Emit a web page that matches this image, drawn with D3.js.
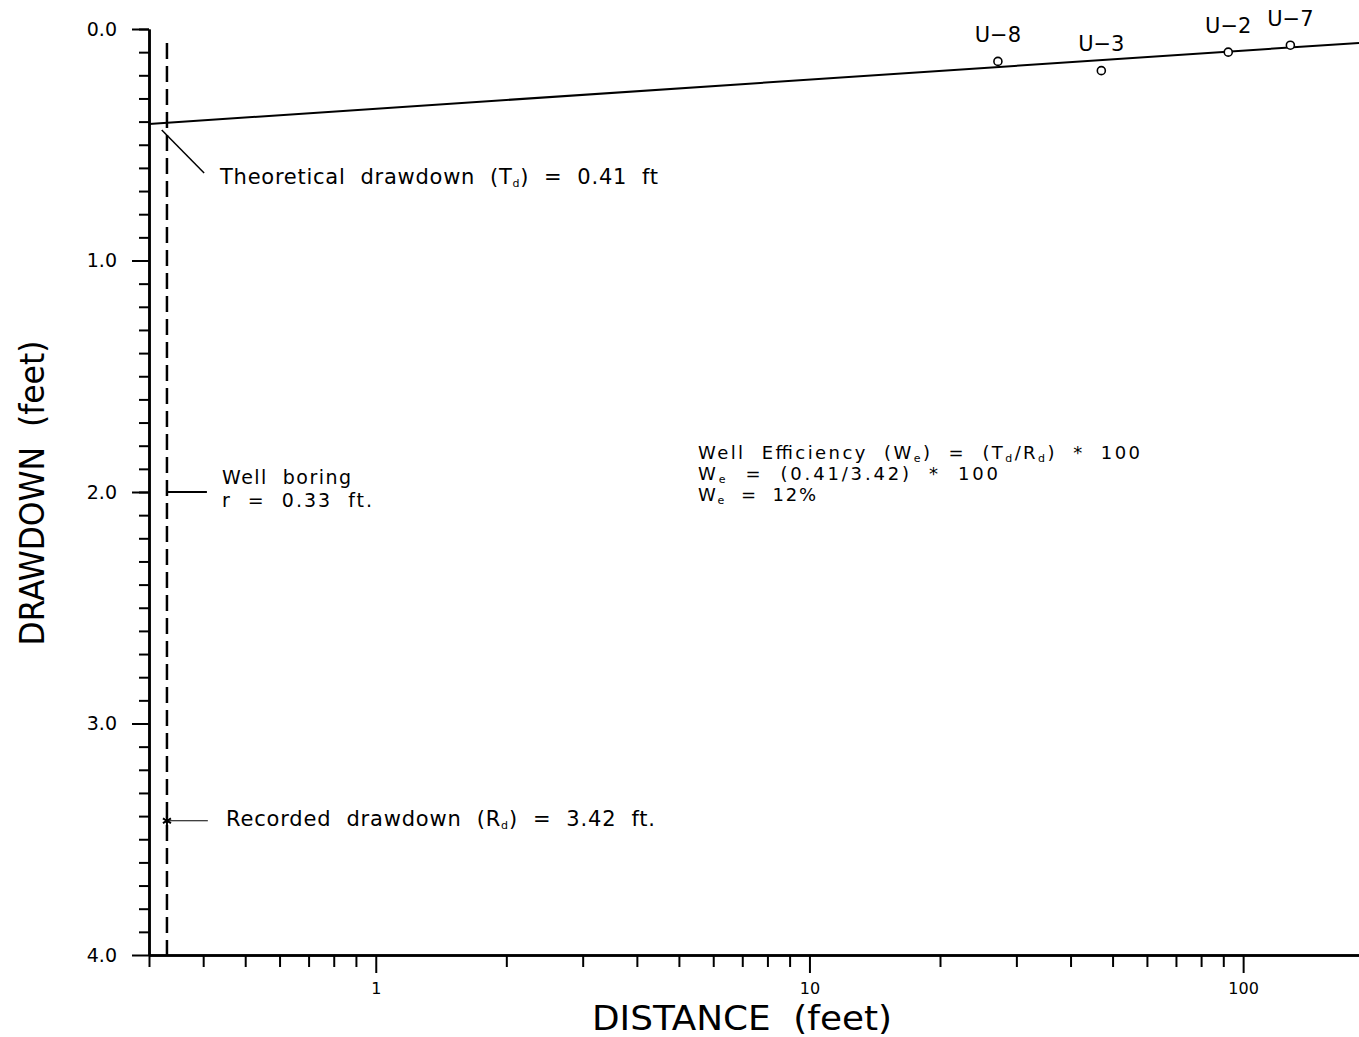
<!DOCTYPE html>
<html>
<head>
<meta charset="utf-8">
<script src="https://cdn.jsdelivr.net/npm/d3@7"></script>
<style>
  html, body { margin: 0; padding: 0; background: #fff; }
  svg { display: block; }
  text { fill: #000; white-space: pre; }
  .ann { font-family: "DejaVu Sans", sans-serif; font-size: 21px; }
  .eff { font-size: 18px; }
  .bor { font-size: 19px; }
  .yax .tick text { font-family: "DejaVu Sans", sans-serif; font-size: 19px; fill: #000; }
  .xax .tick text { font-family: "DejaVu Sans", sans-serif; font-size: 16px; fill: #000; }
  .title { font-family: "Liberation Sans Narrow", "DejaVu Sans Condensed", "Liberation Sans", sans-serif; font-size: 34px; }
</style>
</head>
<body>
<svg id="chart" width="1359" height="1037"></svg>
<script>
// ---- data ----
const xDomain = [0.3, 185];
const yDomain = [0, 4];
const yMajorTicks = [0, 1, 2, 3, 4];
const yMinorTicks = d3.range(0, 40).map(i => i / 10);
const xMajorTicks = [1, 10, 100];
const xMinorTicks = [0.3, 0.4, 0.5, 0.6, 0.7, 0.8, 0.9, 2, 3, 4, 5, 6, 7, 8, 9, 20, 30, 40, 50, 60, 70, 80, 90];
const wellNames = ["U-8", "U-3", "U-2", "U-7"];
const wellDistance = [27.2, 47.1, 92.4, 128.5];
const wellDrawdown = [0.14, 0.18, 0.10, 0.07];
const fitDistance = [0.3, 185];
const fitDrawdown = [0.41, 0.06];
const boringRadius = 0.33;
const theoreticalDrawdown = 0.41;
const recordedDrawdown = 3.42;
const efficiency = 12;

// ---- scales ----
const svg = d3.select("#chart");
const x = d3.scaleLog().domain(xDomain).range([149, 1359]);
const y = d3.scaleLinear().domain(yDomain).range([29, 955]);

// ---- axes ----
const yMinor = d3.axisLeft(y).tickValues(yMinorTicks).tickSize(10).tickSizeOuter(0).tickFormat("");
const yMajor = d3.axisLeft(y).tickValues(yMajorTicks).tickSize(17).tickSizeOuter(0).tickPadding(15).tickFormat(d3.format(".1f"));
const xMinor = d3.axisBottom(x).tickValues(xMinorTicks).tickSize(12).tickSizeOuter(0).tickFormat("");
const xMajor = d3.axisBottom(x).tickValues(xMajorTicks).tickSize(18).tickSizeOuter(0).tickPadding(10).tickFormat(d3.format("d"));

function styleAxis(g) {
  g.attr("font-size", null).attr("font-family", null);
  g.selectAll("path.domain").attr("stroke", "#000").attr("stroke-width", 2.5);
  g.selectAll(".tick line").attr("stroke", "#000").attr("stroke-width", 2);
}
svg.append("g").attr("class", "yax").attr("transform", `translate(${x(xDomain[0])},0)`).call(yMinor).call(styleAxis);
svg.append("g").attr("class", "yax").attr("transform", `translate(${x(xDomain[0])},0)`).call(yMajor).call(styleAxis);
svg.append("g").attr("class", "xax").attr("transform", `translate(0,${y(yDomain[1])})`).call(xMinor).call(styleAxis);
svg.append("g").attr("class", "xax").attr("transform", `translate(0,${y(yDomain[1])})`).call(xMajor).call(styleAxis);

// axis titles
svg.append("text").attr("class", "title")
  .attr("x", 742).attr("y", 1030).attr("text-anchor", "middle")
  .attr("textLength", 300).attr("lengthAdjust", "spacingAndGlyphs")
  .text("DISTANCE  (feet)");
svg.append("text").attr("class", "title")
  .attr("transform", "translate(44,493) rotate(-90)").attr("text-anchor", "middle")
  .attr("textLength", 305).attr("lengthAdjust", "spacingAndGlyphs")
  .text("DRAWDOWN  (feet)");

// ---- well boring (dashed) ----
svg.append("line")
  .attr("x1", x(boringRadius)).attr("x2", x(boringRadius))
  .attr("y1", y(0.06)).attr("y2", y(yDomain[1]))
  .attr("stroke", "#000").attr("stroke-width", 2.5).attr("stroke-dasharray", "16,7");

// ---- theoretical line ----
const line = d3.line().x(d => x(d[0])).y(d => y(d[1]));
svg.append("path")
  .datum(fitDistance.map((d, i) => [d, fitDrawdown[i]]))
  .attr("d", line).attr("fill", "none").attr("stroke", "#000").attr("stroke-width", 2);

// ---- observation wells ----
const wells = wellNames.map((n, i) => ({ name: n, d: wellDistance[i], s: wellDrawdown[i] }));
svg.selectAll("circle.well").data(wells).join("circle").attr("class", "well")
  .attr("cx", d => x(d.d)).attr("cy", d => y(d.s)).attr("r", 4)
  .attr("fill", "#fff").attr("stroke", "#000").attr("stroke-width", 1.6);
svg.selectAll("text.wl").data(wells).join("text").attr("class", "ann wl")
  .attr("x", d => x(d.d)).attr("y", d => y(d.s) - 19.5).attr("text-anchor", "middle")
  .text(d => d.name.replace("-", "\u2212"));

// ---- annotations ----
function leader(x1, y1, x2, y2, w) {
  svg.append("line").attr("x1", x(x1)).attr("y1", y(y1)).attr("x2", x(x2)).attr("y2", y(y2))
    .attr("stroke", "#000").attr("stroke-width", w);
}
leader(0.321, 0.436, 0.402, 0.622, 1.5);
leader(boringRadius, 2.0, 0.408, 2.0, 1.8);
leader(boringRadius, recordedDrawdown, 0.41, recordedDrawdown, 1.2);
svg.append("path")
  .attr("transform", `translate(${x(boringRadius)},${y(recordedDrawdown)})`)
  .attr("d", d3.symbol(d3.symbolAsterisk, 60)()).attr("stroke", "#000").attr("stroke-width", 2);

function richText(px, py, parts, len, cls) {
  const t = svg.append("text").attr("class", "ann" + (cls ? " " + cls : "")).attr("x", px).attr("y", py);
  parts.forEach(p => {
    if (typeof p === "string") t.append("tspan").text(p);
    else t.append("tspan").attr("baseline-shift", "-3").style("font-size", "11px").text(p.sub);
  });
  if (len) t.attr("textLength", len).attr("lengthAdjust", "spacing");
  return t;
}

const fmt2 = d3.format(".2f");
richText(220, 184, ["Theoretical  drawdown  (T", { sub: "d" }, ")  =  " + fmt2(theoreticalDrawdown) + "  ft"], 438);
richText(222, 484, ["Well  boring"], 129, "bor");
richText(222, 507, ["r  =  " + fmt2(boringRadius) + "  ft."], 150, "bor");
richText(226, 826, ["Recorded  drawdown  (R", { sub: "d" }, ")  =  " + fmt2(recordedDrawdown) + "  ft."], 429);
richText(698, 459, ["Well  Efficiency  (W", { sub: "e" }, ")  =  (T", { sub: "d" }, "/R", { sub: "d" }, ")  *  100"], 442, "eff");
richText(698, 480, ["W", { sub: "e" }, "  =  (" + fmt2(theoreticalDrawdown) + "/" + fmt2(recordedDrawdown) + ")  *  100"], 300, "eff");
richText(698, 501, ["W", { sub: "e" }, "  =  " + efficiency + "%"], 118, "eff");
</script>
</body>
</html>
